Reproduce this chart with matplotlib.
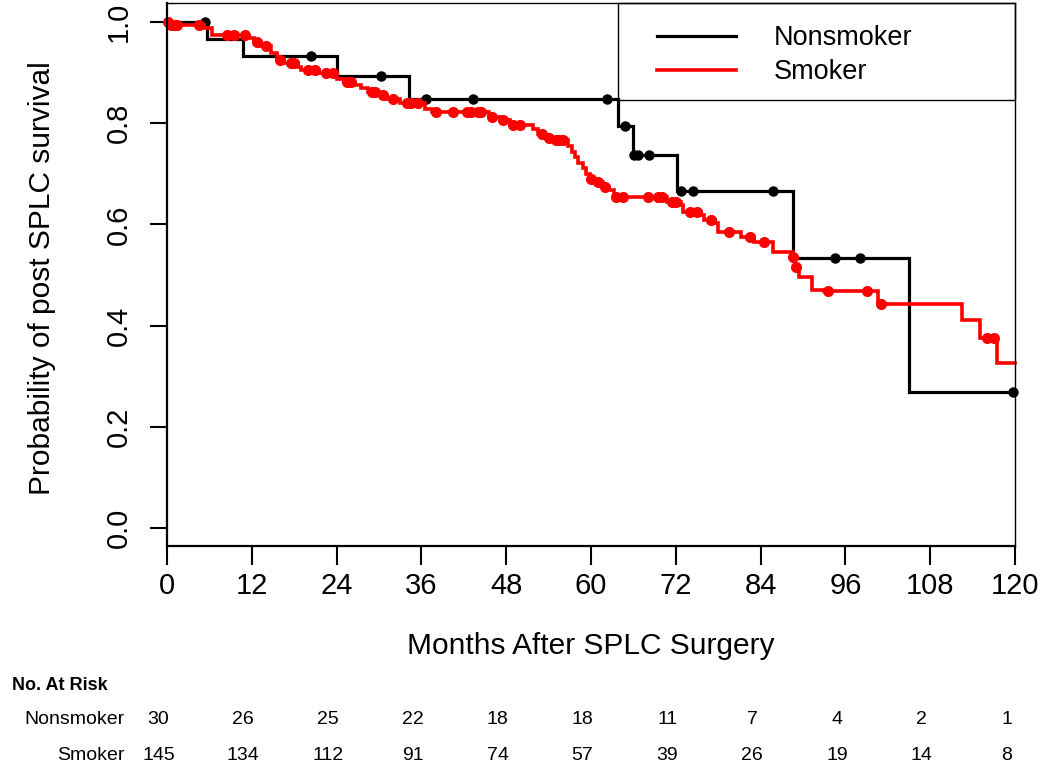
import numpy as np
import matplotlib
matplotlib.use("Agg")
import matplotlib.pyplot as plt
import matplotlib.transforms as mtransforms
from matplotlib.patches import Rectangle

plt.rcParams['font.family'] = ['Liberation Sans', 'DejaVu Sans']

# Kaplan-Meier steps: (month of drop, survival after drop)
nonsmoker_times = [0, 5.6, 10.8, 24.0, 34.2, 63.8, 65.9, 72.2, 88.6, 105.0]
nonsmoker_surv = [1.0, 0.967, 0.933, 0.893, 0.848, 0.794, 0.737, 0.666, 0.534, 0.269]
nonsmoker_censor = [5.4, 20.4, 30.3, 36.6, 43.3, 62.3, 64.8, 66.1, 66.7, 68.2,
                    72.7, 74.4, 85.8, 94.5, 98.1, 119.7]

smoker_times = [0, 0.5, 5.2, 6.4, 11.4, 12.3, 13.3, 14.7, 15.6, 16.5, 18.5, 19.0,
                21.5, 24.0, 25.0, 26.5, 27.5, 28.5, 30.0, 31.0, 33.0, 36.5, 37.5,
                45.5, 47.2, 48.5, 51.8, 52.5, 53.3, 54.7, 56.8, 57.3, 57.8, 58.2,
                58.8, 59.3, 59.8, 60.3, 61.7, 62.5, 63.2, 70.8, 72.7, 73.0, 75.5,
                76.0, 77.5, 78.0, 81.2, 83.0, 85.7, 88.6, 88.9, 89.5, 91.3, 93.0,
                100.6, 112.5, 115.0, 117.5]
smoker_surv = [1.0, 0.994, 0.988, 0.974, 0.968, 0.960, 0.952, 0.938, 0.925, 0.919,
               0.912, 0.905, 0.899, 0.887, 0.881, 0.876, 0.870, 0.862, 0.856, 0.847,
               0.840, 0.829, 0.822, 0.812, 0.806, 0.796, 0.788, 0.779, 0.771, 0.767,
               0.755, 0.743, 0.733, 0.722, 0.712, 0.700, 0.690, 0.683, 0.674, 0.668,
               0.655, 0.644, 0.638, 0.625, 0.619, 0.608, 0.603, 0.585, 0.575, 0.565,
               0.545, 0.535, 0.516, 0.496, 0.470, 0.468, 0.443, 0.411, 0.375, 0.326]
smoker_censor = [0.2, 0.6, 1.0, 1.4, 4.5, 8.5, 9.5, 11.0, 12.8, 14.0, 16.0, 17.5,
                 18.0, 20.0, 21.0, 22.5, 23.5, 25.5, 26.0, 29.0, 29.5, 30.5, 32.0,
                 34.0, 34.5, 35.5, 38.0, 40.5, 42.5, 43.0, 44.0, 44.5, 46.0, 47.5,
                 49.0, 50.0, 53.0, 54.0, 55.0, 55.5, 56.0, 60.0, 61.0, 62.0, 63.5,
                 64.5, 68.0, 69.5, 70.0, 71.5, 72.0, 74.0, 75.0, 77.0, 79.5, 82.5,
                 84.5, 88.6, 89.0, 93.5, 99.0, 101.0, 116.0, 117.0]

end_month = 120
x_ticks = [0, 12, 24, 36, 48, 60, 72, 84, 96, 108, 120]
y_ticks = [0.0, 0.2, 0.4, 0.6, 0.8, 1.0]
group_names = ["Nonsmoker", "Smoker"]
nonsmoker_at_risk = [30, 26, 25, 22, 18, 18, 11, 7, 4, 2, 1]
smoker_at_risk = [145, 134, 112, 91, 74, 57, 39, 26, 19, 14, 8]


def surv_at(times, surv, t):
    idx = np.searchsorted(times, t, side='right') - 1
    return np.asarray(surv)[idx]


def draw_km(ax, times, surv, censor, color, label, lw, ms):
    xs = list(times) + [end_month]
    ys = list(surv) + [surv[-1]]
    ax.step(xs, ys, where='post', color=color, lw=lw, label=label,
            solid_joinstyle='miter', clip_on=False)
    cy = surv_at(times, surv, censor)
    ax.plot(censor, cy, 'o', color=color, ms=ms, clip_on=False)


fig = plt.figure(figsize=(10.5, 7.76), dpi=100)
ax = fig.add_axes([167 / 1050, 1 - 546 / 776, (1015 - 167) / 1050, (546 - 3) / 776])

draw_km(ax, nonsmoker_times, nonsmoker_surv, nonsmoker_censor, 'black', group_names[0], 2.3, 6.5)
draw_km(ax, smoker_times, smoker_surv, smoker_censor, '#ff0000', group_names[1], 2.6, 7)

ax.set_xlim(0, end_month)
ax.set_ylim(-18 / 506, 1 + 19 / 506)
ax.set_xticks(x_ticks)
ax.set_yticks(y_ticks)
ax.set_yticklabels([f"{v:.1f}" for v in y_ticks])
ax.tick_params(axis='both', direction='out', width=1.5, labelsize=21)
ax.tick_params(axis='x', length=14, pad=5)
ax.tick_params(axis='y', length=12.5, pad=12, labelrotation=90)
for lab in ax.get_yticklabels():
    lab.set_verticalalignment('center')
for side in ['left', 'bottom']:
    ax.spines[side].set_linewidth(1.6)
for side in ['top', 'right']:
    ax.spines[side].set_linewidth(1.0)

ax.set_xlabel("Months After SPLC Surgery", fontsize=21.5, labelpad=23)
fig.text(42 / 1050, 1 - 278 / 776, "Probability of post SPLC survival",
         rotation=90, fontsize=21.5, ha='center', va='center')

# legend box in upper right
box = Rectangle(((618 - 167) / 848, 1 - 97 / 543), (1015 - 618) / 848, 97 / 543,
                transform=ax.transAxes, fill=False, lw=1.0, ec='black', clip_on=False)
ax.add_patch(box)
ax.legend(loc='upper left', bbox_to_anchor=((657 - 167) / 848, 1 - 22 / 543),
          frameon=False, fontsize=19.5, handlelength=2.9, handletextpad=1.4,
          labelspacing=0.3, borderpad=0, borderaxespad=0)

# number at risk table
trans = mtransforms.blended_transform_factory(ax.transData, fig.transFigure)
fig.text(12 / 1050, 1 - 685 / 776, "No. At Risk", fontsize=13, fontweight='bold',
         ha='left', va='center')
rows = [nonsmoker_at_risk, smoker_at_risk]
row_y = [720, 756]
for name, counts, yp in zip(group_names, rows, row_y):
    fig.text(125 / 1050, 1 - yp / 776, name, fontsize=14, ha='right', va='center')
    for t, n in zip(x_ticks, counts):
        ax.text(t - 1.2, 1 - yp / 776, str(n), transform=trans, fontsize=14,
                ha='center', va='center')

fig.savefig("out.png", dpi=100)
